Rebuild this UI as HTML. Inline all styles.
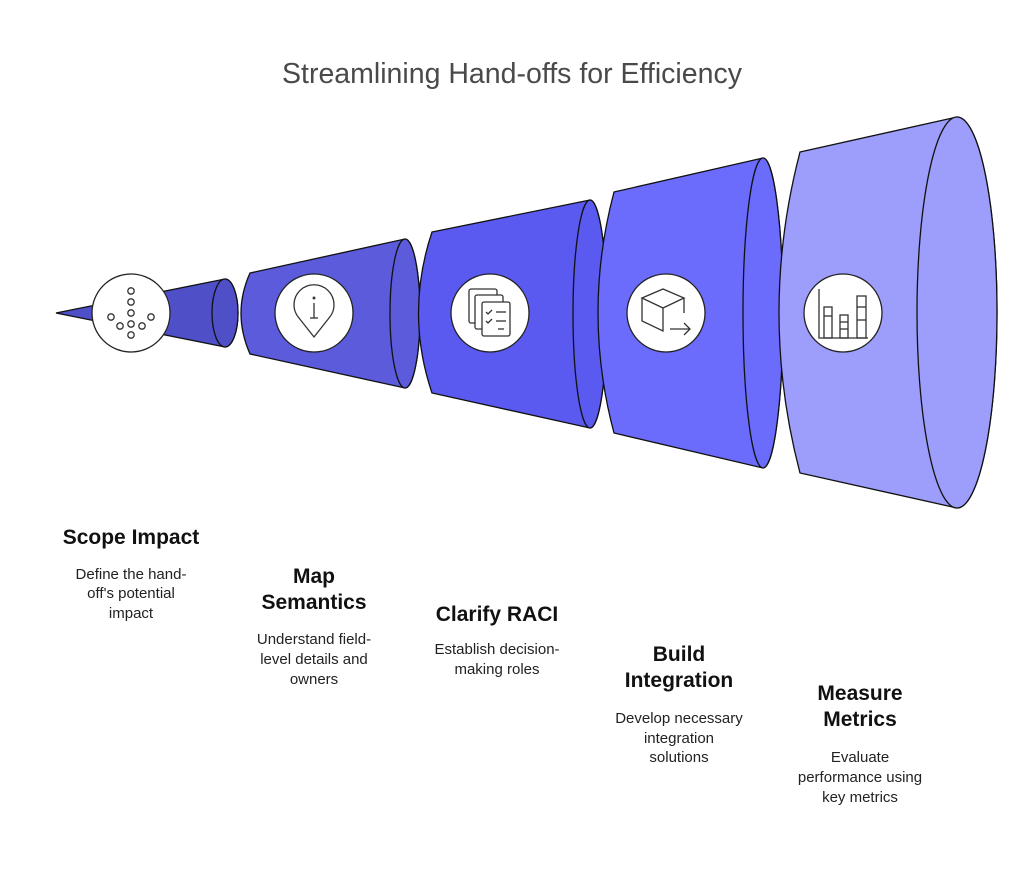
<!DOCTYPE html>
<html><head><meta charset="utf-8"><style>
html,body{margin:0;padding:0;background:#fff;}
svg{display:block;font-family:"Liberation Sans",sans-serif;}
.t{font-size:21px;font-weight:bold;fill:#111;text-anchor:middle;}
.d{font-size:15px;fill:#222;text-anchor:middle;}
.ic{fill:none;stroke:#333;stroke-width:1.3;}
</style></head><body>
<svg width="1024" height="887" viewBox="0 0 1024 887">
<text x="512" y="83" text-anchor="middle" font-size="28.5" fill="#4a4a4a">Streamlining Hand-offs for Efficiency</text>
<g stroke="#111" stroke-width="1.3">
<path d="M56,313 L225,279 A13,34 0 0 1 225,347 Z" fill="#4f4fc8"/>
<ellipse cx="225" cy="313" rx="13" ry="34" fill="#4f4fc8"/>
<path d="M250,273 L405,239 A15,74.5 0 0 1 405,388 L250,354 Q232,313 250,273 Z" fill="#5b5bdc"/>
<ellipse cx="405" cy="313.5" rx="15" ry="74.5" fill="#5b5bdc"/>
<path d="M432,232 L590,200 A17,114 0 0 1 590,428 L432,393 Q405,313 432,232 Z" fill="#5a5af0"/>
<ellipse cx="590" cy="314" rx="17" ry="114" fill="#5a5af0"/>
<path d="M614,192 L763,158 A20,155 0 0 1 763,468 L614,433 Q582,313 614,192 Z" fill="#6b6bfc"/>
<ellipse cx="763" cy="313" rx="20" ry="155" fill="#6b6bfc"/>
<path d="M800,152 L957,117 A40,195.5 0 0 1 957,508 L800,473 Q758,313 800,152 Z" fill="#9d9dfb"/>
<ellipse cx="957" cy="312.5" rx="40" ry="195.5" fill="#9d9dfb"/>
</g>
<g fill="#fff" stroke="#222" stroke-width="1.3">
<circle cx="131" cy="313" r="39"/>
<circle cx="314" cy="313" r="39"/>
<circle cx="490" cy="313" r="39"/>
<circle cx="666" cy="313" r="39"/>
<circle cx="843" cy="313" r="39"/>
</g>
<g class="ic">
<circle cx="131" cy="291" r="3.2"/><circle cx="131" cy="302" r="3.2"/><circle cx="131" cy="313" r="3.2"/>
<circle cx="131" cy="324" r="3.2"/><circle cx="131" cy="335" r="3.2"/>
<circle cx="120" cy="326" r="3.2"/><circle cx="142" cy="326" r="3.2"/>
<circle cx="111" cy="317" r="3.2"/><circle cx="151" cy="317" r="3.2"/>
</g>
<g class="ic">
<path d="M314,337 L299,318 A20,20 0 1 1 329,318 Z"/>
<line x1="314" y1="303" x2="314" y2="318"/><line x1="310" y1="318" x2="318" y2="318"/>
<circle cx="314" cy="298" r="0.8" fill="#333"/>
</g>
<g class="ic">
<rect x="469" y="289" width="28" height="34" rx="2"/>
<rect x="475" y="295" width="28" height="34" rx="2" fill="#fff"/>
<rect x="482" y="302" width="28" height="34" rx="2" fill="#fff"/>
<path d="M486,312 l2,2 4,-4 M486,321 l2,2 4,-4"/>
<line x1="496" y1="312" x2="506" y2="312"/><line x1="496" y1="321" x2="506" y2="321"/><line x1="498" y1="329" x2="504" y2="329"/>
</g>
<g class="ic">
<path d="M642,298 L663,289 L684,298 L663,308 Z M642,298 L642,321 L663,331 L663,308 M684,298 L684,313"/>
<path d="M670,329 L690,329 M684,323 L690,329 L684,335"/>
</g>
<g class="ic">
<path d="M819,289 L819,338 L868,338"/>
<rect x="824" y="307" width="8" height="31"/><line x1="824" y1="316" x2="832" y2="316"/>
<rect x="840" y="315" width="8" height="23"/><line x1="840" y1="322" x2="848" y2="322"/><line x1="840" y1="329" x2="848" y2="329"/>
<rect x="857" y="296" width="9" height="42"/><line x1="857" y1="307" x2="866" y2="307"/><line x1="857" y1="320" x2="866" y2="320"/>
</g>
<text class="t" x="131" y="544">Scope Impact</text>
<text class="d" x="131" y="579">Define the hand-</text>
<text class="d" x="131" y="598">off's potential</text>
<text class="d" x="131" y="618">impact</text>

<text class="t" x="314" y="583">Map</text>
<text class="t" x="314" y="609">Semantics</text>
<text class="d" x="314" y="644">Understand field-</text>
<text class="d" x="314" y="664">level details and</text>
<text class="d" x="314" y="684">owners</text>

<text class="t" x="497" y="621">Clarify RACI</text>
<text class="d" x="497" y="654">Establish decision-</text>
<text class="d" x="497" y="674">making roles</text>

<text class="t" x="679" y="661">Build</text>
<text class="t" x="679" y="687">Integration</text>
<text class="d" x="679" y="723">Develop necessary</text>
<text class="d" x="679" y="743">integration</text>
<text class="d" x="679" y="762">solutions</text>

<text class="t" x="860" y="700">Measure</text>
<text class="t" x="860" y="726">Metrics</text>
<text class="d" x="860" y="762">Evaluate</text>
<text class="d" x="860" y="782">performance using</text>
<text class="d" x="860" y="802">key metrics</text>
</svg>
</body></html>
